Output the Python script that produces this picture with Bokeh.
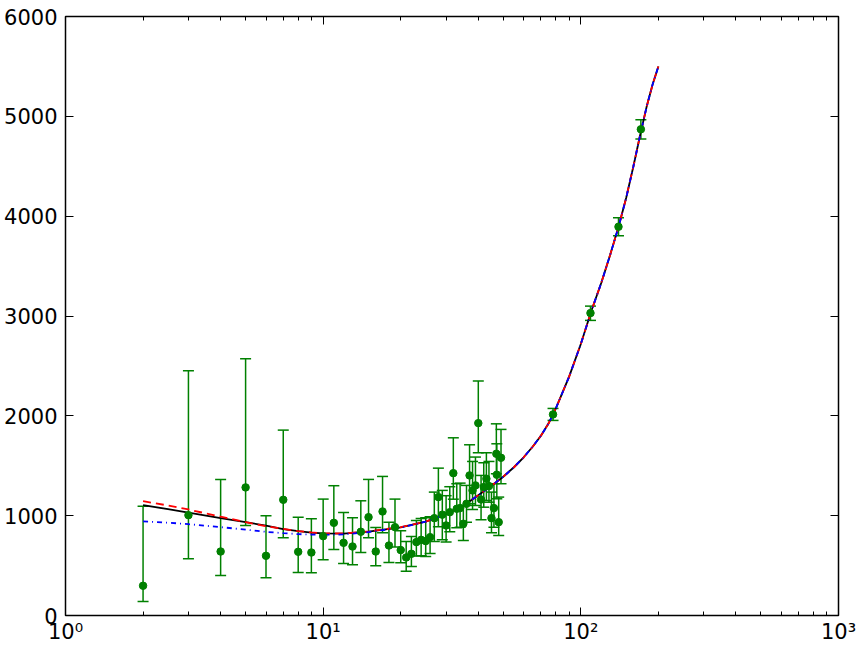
from bokeh.plotting import figure
from bokeh.models import Range1d, Whisker, TeeHead, ColumnDataSource, LinearAxis, LogAxis, CustomJSTickFormatter, FixedTicker
from bokeh.embed import file_html
from bokeh.resources import INLINE

# ---- data ----
data_x = [2, 3, 4, 5, 6, 7, 8, 9, 10, 11, 12, 13, 14, 15, 16, 17, 18, 19, 20,
          21, 22, 23, 24, 25, 26, 27, 28, 29, 30, 31, 32, 33, 34, 35, 36, 37, 38,
          39, 40, 41, 42, 43, 44, 45, 46, 47, 47.2, 48, 49, 78, 109, 140, 171]
data_y = [298, 1005, 641, 1283, 598, 1159, 638, 631, 795, 928, 728, 691, 839, 985,
          641, 1042, 701, 885, 655, 581, 618, 735, 758, 745, 785, 975, 1186, 1010,
          902, 1035, 1426, 1069, 1076, 919, 1119, 1403, 1253, 1303, 1927, 1162,
          1286, 1370, 1296, 975, 1076, 1620, 1410, 935, 1580, 2014, 3029, 3894, 4870]
data_lo = [140, 568, 401, 902, 378, 779, 431, 428, 558, 661, 521, 508, 631, 779,
           498, 828, 531, 685, 528, 444, 491, 595, 598, 591, 620, 741, 890, 760,
           735, 840, 1165, 879, 885, 751, 935, 1119, 1062, 1102, 1630, 959,
           1085, 1152, 1135, 829, 885, 1420, 1169, 802, 1320, 1954, 2956, 3805, 4773]
data_hi = [1095, 2452, 1363, 2572, 999, 1857, 985, 969, 1166, 1300, 1032, 979, 1149,
           1363, 882, 1393, 935, 1166, 850, 740, 792, 952, 972, 979, 990, 1236,
           1476, 1253, 1200, 1290, 1780, 1320, 1326, 1102, 1303, 1710, 1543, 1587,
           2349, 1403, 1530, 1630, 1543, 1236, 1320, 1920, 1720, 1186, 1864,
           2074, 3099, 3985, 4967]

curve_x = [2, 2.5, 3, 4, 5, 6, 7, 8, 9, 10, 12, 15, 20, 25, 30, 35, 40, 45, 50,
           55, 60, 65, 70, 75, 80, 90, 100, 110, 120, 130, 140, 150, 160, 170,
           180, 190, 200]
fit_black = [1105, 1065, 1030, 975, 935, 900, 865, 845, 830, 822, 820, 840, 882,
             940, 1015, 1100, 1205, 1300, 1390, 1485, 1585, 1690, 1800, 1925,
             2075, 2390, 2720, 3055, 3330, 3613, 3892, 4184, 4500, 4815, 5095,
             5321, 5500]
fit_red = [1145, 1102, 1062, 990, 935, 895, 868, 845, 832, 822, 822, 842, 885,
           940, 1015, 1100, 1205, 1300, 1390, 1485, 1585, 1690, 1800, 1925,
           2075, 2390, 2720, 3055, 3330, 3613, 3892, 4184, 4500, 4815, 5095,
           5321, 5500]
fit_blue = [942, 930, 915, 885, 860, 838, 825, 815, 810, 808, 812, 836, 880,
            940, 1015, 1100, 1205, 1300, 1390, 1485, 1585, 1690, 1800, 1925,
            2075, 2390, 2720, 3055, 3330, 3613, 3892, 4184, 4500, 4815, 5095,
            5321, 5500]

x_tick_values = [1, 10, 100, 1000]
x_tick_labels = ["10⁰", "10¹", "10²", "10³"]
y_tick_values = [0, 1000, 2000, 3000, 4000, 5000, 6000]

FONT = "DejaVu Sans"
GREEN = "#008000"

p = figure(width=856, height=646, x_axis_type="log",
           x_range=Range1d(1, 1000), y_range=Range1d(0, 6000),
           output_backend="svg", toolbar_location=None,
           min_border_left=65, min_border_right=18, min_border_top=16, min_border_bottom=31)
p.grid.visible = False
p.outline_line_color = "black"
p.outline_line_width = 1.5
p.background_fill_color = "white"
p.border_fill_color = "white"

minor = [m * d for d in (1, 10, 100) for m in range(2, 10)]

def style_axis(ax, labels=True):
    ax.axis_line_color = None
    ax.major_tick_in = 8
    ax.major_tick_out = 0
    ax.minor_tick_in = 4
    ax.minor_tick_out = 0
    ax.major_tick_line_color = "black"
    ax.minor_tick_line_color = "black"
    ax.major_tick_line_width = 1
    ax.minor_tick_line_width = 1
    ax.major_label_text_font = FONT
    ax.major_label_text_font_size = "21px"
    ax.major_label_text_color = "black"
    if not labels:
        ax.major_label_text_font_size = "0px"
        ax.major_label_standoff = 0

# bottom x axis
xa = p.xaxis[0]
xa.ticker = FixedTicker(ticks=x_tick_values, minor_ticks=minor)
xa.major_label_overrides = dict(zip(x_tick_values, x_tick_labels))
style_axis(xa)
xa.major_label_standoff = 4

# left y axis
ya = p.yaxis[0]
ya.ticker = FixedTicker(ticks=y_tick_values)
style_axis(ya)
ya.minor_tick_in = 0
ya.major_label_standoff = 8

# top and right axes (ticks only)
top = LogAxis(ticker=FixedTicker(ticks=x_tick_values, minor_ticks=minor),
              formatter=CustomJSTickFormatter(code="return ''"))
style_axis(top, labels=False)
p.add_layout(top, "above")
right = LinearAxis(ticker=FixedTicker(ticks=y_tick_values),
                   formatter=CustomJSTickFormatter(code="return ''"))
style_axis(right, labels=False)
right.minor_tick_in = 0
p.add_layout(right, "right")

# fits
p.line(curve_x, fit_black, line_color="black", line_width=1.8)
p.line(curve_x, fit_red, line_color="#FF0000", line_width=1.8, line_dash="8 5")
p.line(curve_x, fit_blue, line_color="#0000FF", line_width=1.8, line_dash="5 4 1 4")

# data with error bars
src = ColumnDataSource(dict(x=data_x, y=data_y, lo=data_lo, hi=data_hi))
w = Whisker(base="x", lower="lo", upper="hi", dimension="height", source=src,
            line_color=GREEN, line_width=1.5,
            upper_head=TeeHead(size=11, line_color=GREEN, line_width=1.5),
            lower_head=TeeHead(size=11, line_color=GREEN, line_width=1.5))
p.add_layout(w)
p.scatter("x", "y", source=src, size=7.5, fill_color=GREEN, line_color=GREEN)

open("out.html", "w").write(file_html(p, INLINE))
